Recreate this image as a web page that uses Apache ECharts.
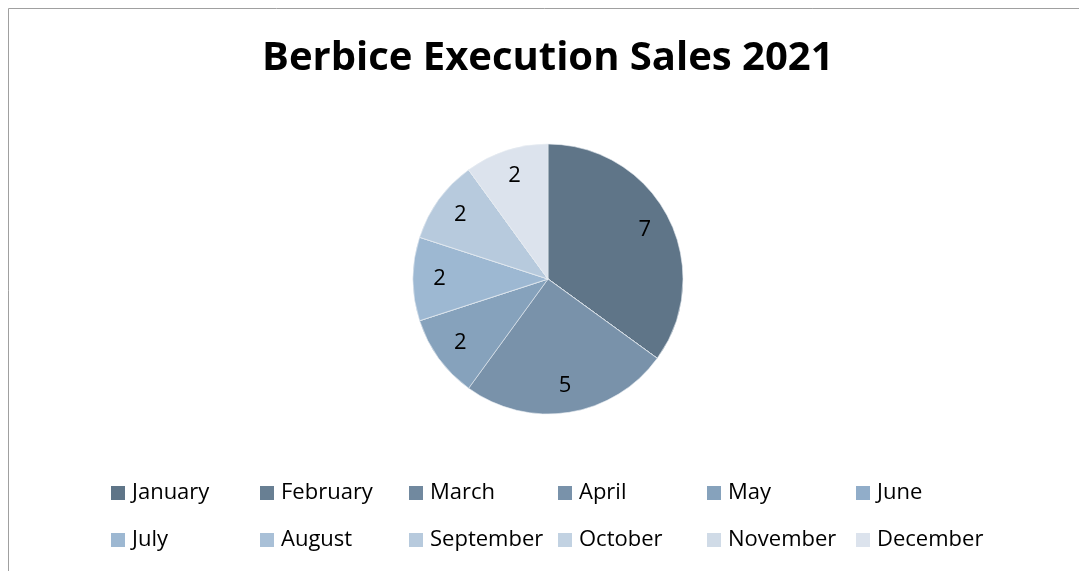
<!DOCTYPE html>
<html>
<head>
<meta charset="utf-8">
<script src="https://cdn.jsdelivr.net/npm/echarts@6/dist/echarts.min.js"></script>
<style>
  html, body { margin: 0; padding: 0; background: #ffffff; }
  #chart { width: 1079px; height: 571px; }
</style>
</head>
<body>
<div id="chart"></div>
<script>
var months = ["January", "February", "March", "April", "May", "June",
  "July", "August", "September", "October", "November", "December"];
var sales = [7, 0, 0, 5, 2, 0, 2, 0, 2, 0, 0, 2];
var colors = ["#5f7588", "#687f93", "#71899f", "#7992aa", "#86a2bc", "#91adc9",
  "#9db8d2", "#a9c0d7", "#b7cadd", "#c2d2e2", "#d0dbe7", "#dce3ed"];

var myChart = echarts.init(document.getElementById("chart"));
var pieData = months.map(function(m, i) {
  return { name: m, value: sales[i] };
});
var font = "Open Sans";

// one legend per month so the columns line up like the original grid
var legends = months.map(function(m, i) {
  return {
    data: [m],
    left: 111 + (i % 6) * 149,
    top: i < 6 ? 482 : 529,
    padding: 0,
    itemWidth: 14, itemHeight: 14,
    icon: "rect",
    itemStyle: { borderWidth: 0 },
    textStyle: { fontFamily: font, fontSize: 22, color: "#000000", padding: [0, 0, 0, 2] }
  };
});

var option = {
  backgroundColor: "#ffffff",
  color: colors,
  animation: false,
  title: {
    text: "Berbice Execution Sales 2021",
    left: 262,
    top: 39,
    padding: 0,
    textStyle: { fontFamily: font, fontWeight: "bold", fontSize: 40, color: "#000000" }
  },
  graphic: [
    {
      type: "rect",
      shape: { x: 8.5, y: 8.5, width: 1100, height: 600 },
      style: { fill: "none", stroke: "#a0a0a0", lineWidth: 1 }
    }
  ],
  legend: legends,
  series: [
    {
      name: "Sales",
      type: "pie",
      center: [548, 279],
      radius: [0, 135],
      startAngle: 90,
      clockwise: true,
      label: { show: false },
      labelLine: { show: false },
      itemStyle: { borderColor: "#e8edf2", borderWidth: 0.6 },
      emphasis: { disabled: true },
      data: pieData
    },
    {
      name: "Labels",
      type: "pie",
      center: [548, 279],
      radius: [76, 135],
      startAngle: 90,
      clockwise: true,
      silent: true,
      itemStyle: { color: "rgba(0,0,0,0)", borderWidth: 0 },
      label: {
        show: true,
        position: "inside",
        fontFamily: font,
        fontSize: 22,
        color: "#000000",
        formatter: function(p) { return p.value ? String(p.value) : ""; }
      },
      labelLine: { show: false },
      emphasis: { disabled: true },
      data: pieData
    }
  ]
};
myChart.setOption(option);
window.onresize = function() {
  myChart.resize();
};
</script>
</body>
</html>
